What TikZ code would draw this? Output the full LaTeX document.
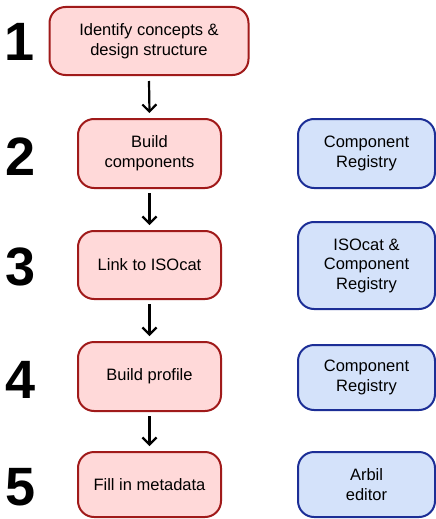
\documentclass[tikz,border=0pt]{standalone}
\usepackage{fontspec}
\setmainfont{Liberation Sans}
\usetikzlibrary{arrows.meta}
\definecolor{redfill}{HTML}{FFD9D9}
\definecolor{reddraw}{HTML}{A01A1A}
\definecolor{bluefill}{HTML}{D4E2FA}
\definecolor{bluedraw}{HTML}{1C2E96}
\tikzset{
  stepbox/.style={draw=reddraw, fill=redfill, line width=2pt, rounded corners=16pt,
    align=center, font=\fontsize{16.5}{20}\selectfont, inner sep=0pt},
  toolbox/.style={draw=bluedraw, fill=bluefill, line width=2pt, rounded corners=16pt,
    align=center, font=\fontsize{16.5}{19.5}\selectfont, inner sep=0pt},
  num/.style={font=\fontsize{54}{54}\selectfont\bfseries, inner sep=0pt},
  flow/.style={line width=2.2pt, -{Straight Barb[length=7pt,width=14pt,line width=2.2pt]}}
}
\begin{document}
\begin{tikzpicture}[x=1pt,y=-1pt]
\useasboundingbox (0,0) rectangle (436,519);
% step boxes
\node[stepbox, minimum width=199pt, minimum height=68pt] (s1) at (149,41) {Identify concepts \&\\design structure};
\node[stepbox, minimum width=143pt, minimum height=69pt] (s2) at (149.5,153.5) {Build\\components};
\node[stepbox, minimum width=143pt, minimum height=68pt] (s3) at (149.5,265) {Link to ISOcat};
\node[stepbox, minimum width=143pt, minimum height=69pt] (s4) at (149.5,376.5) {Build profile};
\node[stepbox, minimum width=143pt, minimum height=65pt] (s5) at (149.5,484.5) {Fill in metadata};
% tool boxes
\node[toolbox, minimum width=137pt, minimum height=69pt] (t2) at (366.5,153.5) {Component\\Registry};
\node[toolbox, minimum width=137pt, minimum height=87pt] (t3) at (366.5,265.5) {ISOcat \&\\Component\\Registry};
\node[toolbox, minimum width=137pt, minimum height=65pt] (t4) at (366.5,377.5) {Component\\Registry};
\node[toolbox, minimum width=137pt, minimum height=65pt] (t5) at (366.5,484.5) {Arbil\\editor};
% numbers
\node[num] (n1) at (20,42) {1};
\node[num] (n2) at (21,157) {2};
\node[num] (n3) at (21,267) {3};
\node[num] (n4) at (21,380) {4};
\node[num] (n5) at (21,487) {5};
% arrows
\draw[flow] ([yshift=-5pt]s1.south) -- ([yshift=5pt]s2.north);
\draw[flow] ([yshift=-4pt]s2.south) -- ([yshift=5pt]s3.north);
\draw[flow] ([yshift=-4pt]s3.south) -- ([yshift=5pt]s4.north);
\draw[flow] ([yshift=-4pt]s4.south) -- ([yshift=5pt]s5.north);
\end{tikzpicture}
\end{document}
